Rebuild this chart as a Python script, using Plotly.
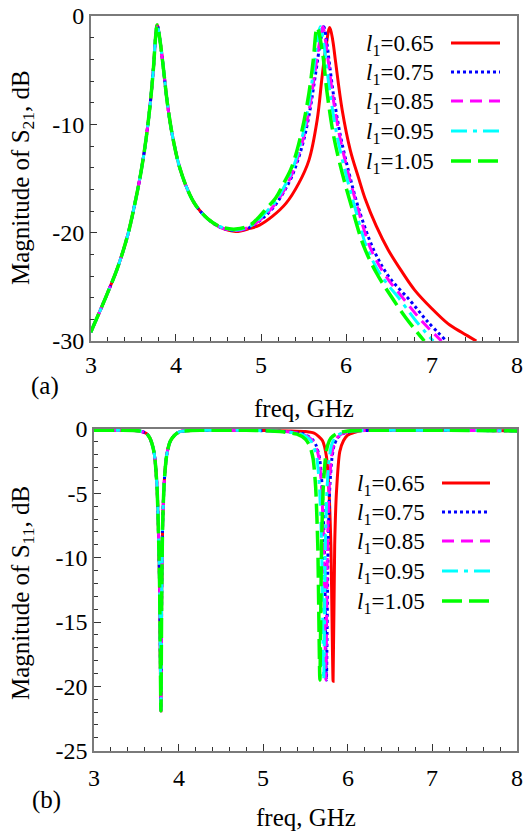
import plotly.graph_objects as go

# ---------------- data ----------------
labels = ["0.65", "0.75", "0.85", "0.95", "1.05"]

# |S21| (dB) vs frequency (GHz)
s21_f_065 = [3.0, 3.18, 3.317, 3.435, 3.513, 3.59, 3.65, 3.697, 3.737, 3.76, 3.78, 3.817, 3.855, 3.90, 3.96, 4.04, 4.14, 4.23, 4.37, 4.52,
             4.70, 4.87, 4.98, 5.13, 5.29, 5.44, 5.56, 5.656, 5.714, 5.76, 5.804, 5.84, 5.87, 5.95, 6.045, 6.14, 6.22, 6.35, 6.49, 6.65, 6.80, 7.0, 7.19, 7.35, 7.523]
s21_v_065 = [-29.2, -25.9, -23.2, -20.2, -17.5, -14.4, -11.3, -8.2, -4.7, -2.06, -0.83, -2.5, -5.0, -8.1, -11.1, -13.9, -16.1, -17.45, -18.7, -19.5,
             -19.9, -19.6, -19.3, -18.5, -17.3, -15.45, -13.3, -9.6, -5.6, -2.8, -1.05, -2.3, -4.1, -8.7, -12.4, -14.9, -16.9, -19.4, -21.6, -23.6, -25.3, -27.0, -28.4, -29.2, -30.0]

s21_f_075 = [3.0, 3.18, 3.317, 3.435, 3.513, 3.59, 3.65, 3.697, 3.737, 3.76, 3.78, 3.817, 3.855, 3.90, 3.96, 4.04, 4.14, 4.23, 4.37, 4.52,
             4.70, 4.87, 4.98, 5.07, 5.17, 5.26, 5.36, 5.48, 5.56, 5.64, 5.69, 5.734, 5.77, 5.80, 5.85, 5.93, 6.03, 6.14, 6.32, 6.5, 6.75, 6.95, 7.173]
s21_v_075 = [-29.2, -25.9, -23.2, -20.2, -17.5, -14.4, -11.3, -8.2, -4.7, -2.06, -0.83, -2.5, -5.0, -8.1, -11.1, -13.9, -16.1, -17.45, -18.7, -19.5,
             -19.8, -19.5, -18.9, -18.3, -17.4, -16.3, -14.8, -12.0, -9.2, -5.2, -2.6, -1.0, -2.5, -4.4, -7.4, -11.1, -14.5, -17.7, -21.6, -24.1, -26.3, -28.2, -30.0]

s21_f_085 = [3.0, 3.18, 3.317, 3.435, 3.513, 3.59, 3.65, 3.697, 3.737, 3.76, 3.78, 3.817, 3.855, 3.90, 3.96, 4.04, 4.14, 4.23, 4.37, 4.52,
             4.70, 4.87, 4.98, 5.07, 5.17, 5.26, 5.36, 5.48, 5.56, 5.63, 5.68, 5.722, 5.76, 5.79, 5.84, 5.92, 6.02, 6.13, 6.29, 6.47, 6.69, 6.9, 7.115]
s21_v_085 = [-29.2, -25.9, -23.2, -20.2, -17.5, -14.4, -11.3, -8.2, -4.7, -2.06, -0.83, -2.5, -5.0, -8.1, -11.1, -13.9, -16.1, -17.45, -18.7, -19.5,
             -19.8, -19.45, -18.85, -18.2, -17.3, -16.2, -14.6, -11.7, -8.8, -5.2, -2.6, -1.0, -2.6, -4.4, -7.4, -11.1, -14.5, -17.7, -21.6, -24.1, -26.3, -28.3, -30.0]

s21_f_095 = [3.0, 3.18, 3.317, 3.435, 3.513, 3.59, 3.65, 3.697, 3.737, 3.76, 3.78, 3.817, 3.855, 3.90, 3.96, 4.04, 4.14, 4.23, 4.37, 4.52,
             4.70, 4.87, 4.98, 5.07, 5.17, 5.26, 5.36, 5.48, 5.56, 5.61, 5.65, 5.695, 5.735, 5.765, 5.81, 5.89, 5.99, 6.10, 6.24, 6.41, 6.63, 6.82, 7.018]
s21_v_095 = [-29.2, -25.9, -23.2, -20.2, -17.5, -14.4, -11.3, -8.2, -4.7, -2.06, -0.83, -2.5, -5.0, -8.1, -11.1, -13.9, -16.1, -17.45, -18.7, -19.45,
             -19.75, -19.4, -18.7, -18.0, -17.1, -15.9, -14.3, -11.2, -8.0, -5.2, -2.7, -1.0, -2.7, -4.6, -7.3, -11.1, -14.5, -17.7, -21.4, -24.0, -26.2, -28.2, -30.0]

s21_f_105 = [3.0, 3.18, 3.317, 3.435, 3.513, 3.59, 3.65, 3.697, 3.737, 3.76, 3.78, 3.817, 3.855, 3.90, 3.96, 4.04, 4.14, 4.23, 4.37, 4.52,
             4.70, 4.87, 4.98, 5.07, 5.17, 5.26, 5.36, 5.48, 5.56, 5.61, 5.656, 5.714, 5.773, 5.85, 5.95, 6.06, 6.2, 6.35, 6.5, 6.7, 6.913]
s21_v_105 = [-29.2, -25.9, -23.2, -20.2, -17.5, -14.4, -11.3, -8.2, -4.7, -2.06, -0.83, -2.5, -5.0, -8.1, -11.1, -13.9, -16.1, -17.45, -18.7, -19.45,
             -19.67, -19.3, -18.5, -17.7, -16.8, -15.5, -13.9, -10.5, -7.1, -4.1, -1.05, -3.1, -7.1, -11.1, -14.5, -17.6, -21.2, -23.7, -25.6, -27.9, -30.0]

# |S11| (dB) vs frequency (GHz)
s11_f_065 = [3.0, 3.3, 3.54, 3.62, 3.66, 3.70, 3.72, 3.745, 3.76, 3.775, 3.791, 3.80, 3.811, 3.825, 3.839, 3.86, 3.898, 3.95, 4.016, 4.3, 4.8,
             5.3, 5.5, 5.61, 5.70, 5.748, 5.775, 5.80, 5.826, 5.845, 5.866, 5.905, 5.95, 6.0, 6.16, 6.6, 7.2, 8.0]
s11_v_065 = [-0.1, -0.1, -0.15, -0.35, -0.7, -1.5, -2.3, -4.5, -7.5, -12.0, -21.9, -13.0, -7.5, -4.8, -3.3, -2.0, -1.0, -0.5, -0.2, -0.1, -0.1,
             -0.15, -0.2, -0.35, -0.9, -2.15, -4.5, -9.0, -19.6, -9.0, -4.9, -1.76, -0.9, -0.47, -0.12, -0.1, -0.1, -0.15]

s11_f_075 = [3.0, 3.3, 3.54, 3.62, 3.66, 3.70, 3.72, 3.745, 3.76, 3.775, 3.791, 3.80, 3.811, 3.825, 3.839, 3.86, 3.898, 3.95, 4.016, 4.3, 4.8,
             5.27, 5.48, 5.58, 5.627, 5.667, 5.697, 5.722, 5.747, 5.767, 5.787, 5.812, 5.837, 5.877, 5.947, 6.08, 6.5, 7.2, 8.0]
s11_v_075 = [-0.1, -0.1, -0.15, -0.35, -0.7, -1.5, -2.3, -4.5, -7.5, -12.0, -21.9, -13.0, -7.5, -4.8, -3.3, -2.0, -1.0, -0.5, -0.2, -0.1, -0.1,
             -0.2, -0.4, -0.8, -1.3, -2.3, -4.5, -9.0, -19.5, -9.0, -4.5, -2.3, -1.3, -0.7, -0.35, -0.15, -0.1, -0.1, -0.15]

s11_f_085 = [3.0, 3.3, 3.54, 3.62, 3.66, 3.70, 3.72, 3.745, 3.76, 3.775, 3.791, 3.80, 3.811, 3.825, 3.839, 3.86, 3.898, 3.95, 4.016, 4.3, 4.8,
             5.26, 5.47, 5.57, 5.62, 5.66, 5.69, 5.715, 5.74, 5.76, 5.78, 5.805, 5.83, 5.87, 5.94, 6.07, 6.5, 7.2, 8.0]
s11_v_085 = [-0.1, -0.1, -0.15, -0.35, -0.7, -1.5, -2.3, -4.5, -7.5, -12.0, -21.9, -13.0, -7.5, -4.8, -3.3, -2.0, -1.0, -0.5, -0.2, -0.1, -0.1,
             -0.2, -0.4, -0.8, -1.3, -2.3, -4.5, -9.0, -19.5, -9.0, -4.5, -2.3, -1.3, -0.7, -0.35, -0.15, -0.1, -0.1, -0.15]

s11_f_095 = [3.0, 3.3, 3.54, 3.62, 3.66, 3.70, 3.72, 3.745, 3.76, 3.775, 3.791, 3.80, 3.811, 3.825, 3.839, 3.86, 3.898, 3.95, 4.016, 4.3, 4.8,
             5.24, 5.45, 5.55, 5.595, 5.635, 5.665, 5.69, 5.715, 5.735, 5.755, 5.78, 5.805, 5.845, 5.915, 6.05, 6.5, 7.2, 8.0]
s11_v_095 = [-0.1, -0.1, -0.15, -0.35, -0.7, -1.5, -2.3, -4.5, -7.5, -12.0, -21.9, -13.0, -7.5, -4.8, -3.3, -2.0, -1.0, -0.5, -0.2, -0.1, -0.1,
             -0.2, -0.4, -0.8, -1.3, -2.3, -4.5, -9.0, -19.5, -9.0, -4.5, -2.3, -1.3, -0.7, -0.35, -0.15, -0.1, -0.1, -0.15]

s11_f_105 = [3.0, 3.3, 3.54, 3.62, 3.66, 3.70, 3.72, 3.745, 3.76, 3.775, 3.791, 3.80, 3.811, 3.825, 3.839, 3.86, 3.898, 3.95, 4.016, 4.3, 4.8,
             5.2, 5.4, 5.5, 5.55, 5.59, 5.62, 5.645, 5.67, 5.69, 5.71, 5.735, 5.76, 5.8, 5.87, 6.0, 6.5, 7.2, 8.0]
s11_v_105 = [-0.1, -0.1, -0.15, -0.35, -0.7, -1.5, -2.3, -4.5, -7.5, -12.0, -21.9, -13.0, -7.5, -4.8, -3.3, -2.0, -1.0, -0.5, -0.2, -0.1, -0.1,
             -0.2, -0.4, -0.8, -1.3, -2.3, -4.5, -9.0, -19.5, -9.0, -4.5, -2.3, -1.3, -0.7, -0.35, -0.15, -0.1, -0.1, -0.15]

s21_f = [s21_f_065, s21_f_075, s21_f_085, s21_f_095, s21_f_105]
s21_v = [s21_v_065, s21_v_075, s21_v_085, s21_v_095, s21_v_105]
s11_f = [s11_f_065, s11_f_075, s11_f_085, s11_f_095, s11_f_105]
s11_v = [s11_v_065, s11_v_075, s11_v_085, s11_v_095, s11_v_105]

x_ticks = [3, 4, 5, 6, 7, 8]
y21_ticks = [0, -10, -20, -30]
y11_ticks = [0, -5, -10, -15, -20, -25]

# ---------------- styles ----------------
colors = ["#ff0000", "#0000ff", "#ff00ff", "#00ffff", "#00ff00"]
dashes = ["solid", "3px,3px", "12px,7px", "16px,6px,4px,6px", "20px,7px"]
widths = [3, 3, 3, 3, 3.5]
FONT = "Liberation Serif"
TICK_SIZE = 24
TITLE_SIZE = 25
LEG_SIZE = 23
W, H = 524, 833
AX = "#7a7a7a"


def px(x):
    return x / W


def py(y):
    return 1 - y / H


fig = go.Figure()
for i in range(5):
    fig.add_trace(go.Scatter(x=s21_f[i], y=s21_v[i], mode="lines", xaxis="x", yaxis="y",
                             line=dict(color=colors[i], dash=dashes[i], width=widths[i], shape="spline", smoothing=1.0),
                             showlegend=False))
for i in range(5):
    fig.add_trace(go.Scatter(x=s11_f[i], y=s11_v[i], mode="lines", xaxis="x2", yaxis="y2",
                             line=dict(color=colors[i], dash=dashes[i], width=widths[i], shape="spline", smoothing=0.6),
                             showlegend=False))

common_x = dict(range=[3, 8], tickvals=x_ticks, showticklabels=False,
                ticks="inside", ticklen=7, tickcolor="#333", tickwidth=1,
                minor=dict(dtick=0.2, ticks="inside", ticklen=4, tickcolor="#333", tickwidth=1),
                showline=True, linecolor=AX, linewidth=1.5, mirror=True, showgrid=False, zeroline=False,
                automargin=False)
common_y = dict(ticks="inside", ticklen=7, tickcolor="#333", tickwidth=1, ticklabeloverflow="allow",
                showline=True, linecolor=AX, linewidth=1.5, mirror=True, showgrid=False, zeroline=False,
                tickfont=dict(family=FONT, size=TICK_SIZE, color="black"), automargin=False)

fig.update_layout(
    width=W, height=H, margin=dict(l=0, r=0, t=0, b=0),
    paper_bgcolor="white", plot_bgcolor="white", showlegend=False,
    xaxis=dict(domain=[px(90.7), px(517)], anchor="y", **common_x),
    yaxis=dict(domain=[py(341), py(16)], anchor="x", range=[-30, 0], tickvals=y21_ticks,
               ticktext=[str(t) for t in y21_ticks],
               minor=dict(dtick=2, ticks="inside", ticklen=4, tickcolor="#333", tickwidth=1), **common_y),
    xaxis2=dict(domain=[px(94), px(517)], anchor="y2", **common_x),
    yaxis2=dict(domain=[py(750.7), py(429)], anchor="x2", range=[-25, 0], tickvals=y11_ticks,
                ticktext=[str(t) for t in y11_ticks],
                minor=dict(dtick=1, ticks="inside", ticklen=4, tickcolor="#333", tickwidth=1), **common_y),
)

annos = []
shapes = []
# x tick labels (placed on the data axes)
for t in x_ticks:
    annos.append(dict(text=str(t), x=t, xref="x", y=py(365), size=TICK_SIZE))
    annos.append(dict(text=str(t), x=t, xref="x2", y=py(778), size=TICK_SIZE))
# axis titles and panel tags
annos.append(dict(text="Magnitude of S<sub>21</sub>, dB", x=px(22), y=py(178), textangle=-90, size=TITLE_SIZE))
annos.append(dict(text="Magnitude of S<sub>11</sub>, dB", x=px(22), y=py(593), textangle=-90, size=TITLE_SIZE))
annos.append(dict(text="freq, GHz", x=px(304), y=py(408), size=TITLE_SIZE))
annos.append(dict(text="freq, GHz", x=px(306), y=py(817), size=TITLE_SIZE))
annos.append(dict(text="(a)", x=px(45), y=py(386), size=TITLE_SIZE))
annos.append(dict(text="(b)", x=px(46), y=py(800), size=TITLE_SIZE))

# legends (text left, line sample right)
leg_top = [43, 72, 101, 131, 161]
leg_bot = [483, 512, 541, 571, 601]
for i in range(5):
    t = "<i>l</i><sub>1</sub>=" + labels[i]
    annos.append(dict(text=t, x=px(436), y=py(leg_top[i] + 2), xanchor="right", size=LEG_SIZE))
    shapes.append(dict(type="line", xref="paper", yref="paper", x0=px(451), x1=px(500),
                       y0=py(leg_top[i]), y1=py(leg_top[i]),
                       line=dict(color=colors[i], dash=dashes[i], width=widths[i])))
    annos.append(dict(text=t, x=px(427), y=py(leg_bot[i] + 2), xanchor="right", size=LEG_SIZE))
    shapes.append(dict(type="line", xref="paper", yref="paper", x0=px(442), x1=px(490),
                       y0=py(leg_bot[i]), y1=py(leg_bot[i]),
                       line=dict(color=colors[i], dash=dashes[i], width=widths[i])))

for a in annos:
    a.setdefault("xanchor", "center")
    a.setdefault("xref", "paper")
    size = a.pop("size")
    a.update(yref="paper", yanchor="middle", showarrow=False,
             font=dict(family=FONT, size=size, color="black"))
fig.update_layout(annotations=annos, shapes=shapes)

fig.write_html("out.html", config={"displayModeBar": False},
               post_script="document.body.style.margin='0px';")
